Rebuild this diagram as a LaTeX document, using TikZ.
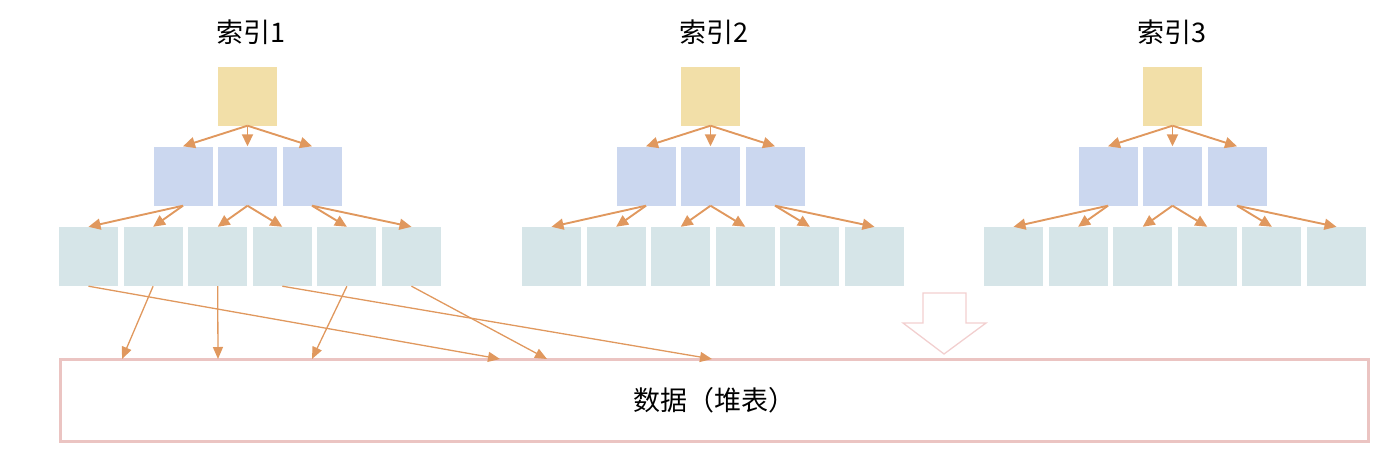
\documentclass[tikz,border=0pt]{standalone}
\usepackage{fontspec}
\setmainfont{Noto Sans CJK SC}
\usetikzlibrary{arrows.meta,calc}
\definecolor{rootc}{HTML}{F2DFA8}
\definecolor{midc}{HTML}{CBD7EF}
\definecolor{leafc}{HTML}{D6E5E8}
\definecolor{arrc}{HTML}{E0985E}
\definecolor{heapc}{HTML}{EBC4C2}
\definecolor{hollowc}{HTML}{F2CFCF}
\tikzset{
  box/.style={minimum width=59pt,minimum height=59pt,inner sep=0pt,draw=none},
  rootbox/.style={box,fill=rootc},
  midbox/.style={box,fill=midc},
  leafbox/.style={box,fill=leafc},
  tarr/.style={draw=arrc,line width=1.9pt,-{Triangle[length=12pt,width=11pt]}},
  barr/.style={draw=arrc,line width=1.3pt,-{Triangle[length=12pt,width=10pt]}},
  titletext/.style={font=\fontsize{27}{30}\selectfont,inner sep=0pt},
  heapbox/.style={draw=heapc,line width=3pt,minimum width=1308pt,minimum height=82pt,inner sep=0pt,font=\fontsize{27}{30}\selectfont},
  hollowarrow/.style={draw=hollowc,line width=1.3pt,line join=miter}
}
\begin{document}
\begin{tikzpicture}[x=1pt,y=-1pt]
\useasboundingbox (0,0) rectangle (1386,458);
\foreach \t/\off/\tx in {1/0/251,2/463/714,3/925/1172}{
  \node[titletext] (t\t) at (\tx,32) {索引\t};
  \node[rootbox] (r\t) at (247.5+\off,96) {};
  \foreach \j/\x in {1/183,2/247.5,3/312}{
    \node[midbox] (m\t-\j) at (\x+\off,176) {};
    \draw[tarr] (r\t.south) -- (m\t-\j.north);
  }
  \foreach \k in {1,...,6}{
    \node[leafbox] (l\t-\k) at ({88.5+64.6*(\k-1)+\off},256.5) {};
  }
  \draw[tarr] (m\t-1.south) -- (l\t-1.north);
  \draw[tarr] (m\t-1.south) -- (l\t-2.north);
  \draw[tarr] (m\t-2.south) -- (l\t-3.north);
  \draw[tarr] (m\t-2.south) -- (l\t-4.north);
  \draw[tarr] (m\t-3.south) -- (l\t-5.north);
  \draw[tarr] (m\t-3.south) -- (l\t-6.north);
}
\node[heapbox] (heap) at (714,400) {\raisebox{-4pt}{数据（堆表）}};
\coordinate (h1) at (122,359);
\coordinate (h2) at (218,359);
\coordinate (h3) at (312,359);
\coordinate (h4) at (500,359);
\coordinate (h5) at (547,359);
\coordinate (h6) at (712,359);
\draw[barr] (l1-1.south) -- (h4);
\draw[barr] (l1-2.south) -- (h1);
\draw[barr] (l1-3.south) -- (h2);
\draw[barr] (l1-4.south) -- (h6);
\draw[barr] (l1-5.south) -- (h3);
\draw[barr] (l1-6.south) -- (h5);
\draw[hollowarrow] (923,293) -- (966,293) -- (966,323) -- (986,323) -- (944,354) -- (903,323) -- (923,323) -- cycle;
\end{tikzpicture}
\end{document}
